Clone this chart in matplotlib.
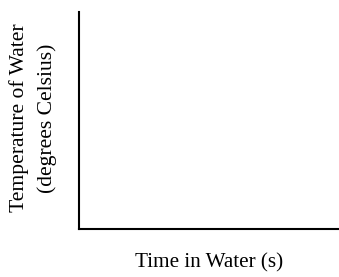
import matplotlib
matplotlib.use("Agg")
from matplotlib import pyplot as plt

x_label = "Time in Water (s)"
y_label = "Temperature of Water\n(degrees Celsius)"

plt.rcParams['font.family'] = ['Liberation Serif', 'DejaVu Serif']

W, H = 339, 277
fig = plt.figure(figsize=(W / 100, H / 100), dpi=100)
ax = fig.add_axes([79 / W, 1 - 229 / H, (338 - 79) / W, (229 - 12) / H])

for side in ['top', 'right']:
    ax.spines[side].set_visible(False)
for side in ['left', 'bottom']:
    ax.spines[side].set_linewidth(1.5)
    ax.spines[side].set_color('black')
ax.set_xticks([])
ax.set_yticks([])

# labels placed in figure pixels to match the original layout
fig.text(209 / W, 1 - 263 / H, x_label, fontsize=15.2, ha='center', va='center')
fig.text(33 / W, 1 - 118 / H, y_label, fontsize=15.6, ha='center', va='center',
         rotation=90, multialignment='center', linespacing=1.55)

fig.savefig("out.png", dpi=100)
